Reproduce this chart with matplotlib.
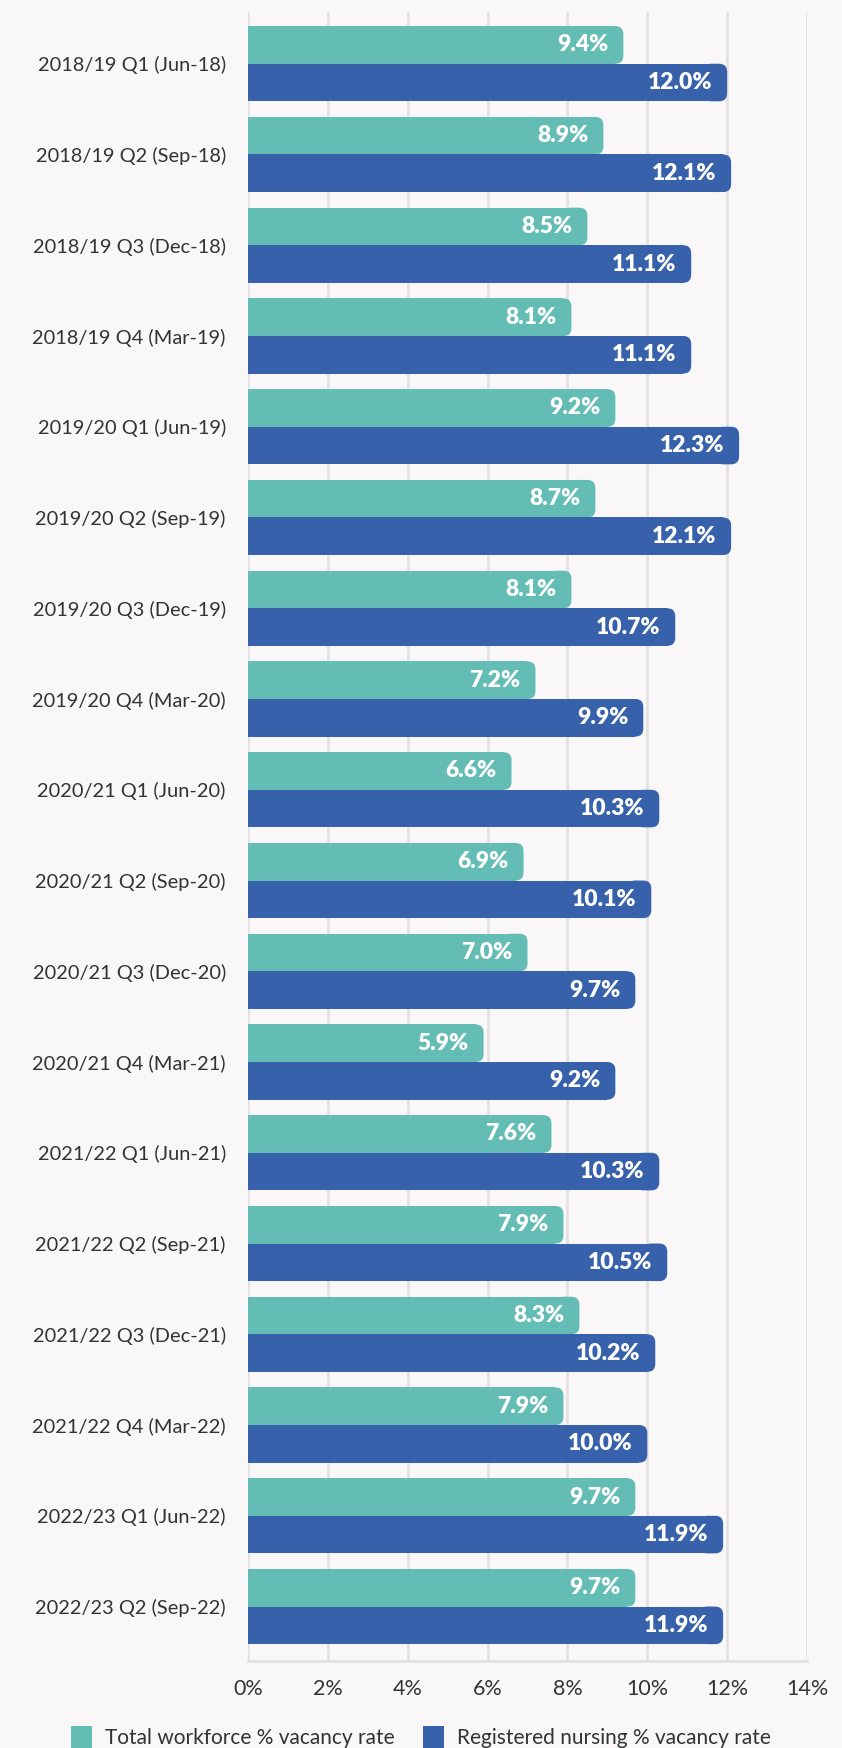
import matplotlib as mpl
mpl.use('Agg')
import matplotlib.pyplot as plt
from matplotlib.patches import FancyBboxPatch, Patch
import numpy as np

# quarterly vacancy rates
quarters = [
    "2018/19 Q1 (Jun-18)", "2018/19 Q2 (Sep-18)", "2018/19 Q3 (Dec-18)",
    "2018/19 Q4 (Mar-19)", "2019/20 Q1 (Jun-19)", "2019/20 Q2 (Sep-19)",
    "2019/20 Q3 (Dec-19)", "2019/20 Q4 (Mar-20)", "2020/21 Q1 (Jun-20)",
    "2020/21 Q2 (Sep-20)", "2020/21 Q3 (Dec-20)", "2020/21 Q4 (Mar-21)",
    "2021/22 Q1 (Jun-21)", "2021/22 Q2 (Sep-21)", "2021/22 Q3 (Dec-21)",
    "2021/22 Q4 (Mar-22)", "2022/23 Q1 (Jun-22)", "2022/23 Q2 (Sep-22)",
]
total_workforce = [9.4, 8.9, 8.5, 8.1, 9.2, 8.7, 8.1, 7.2, 6.6, 6.9,
                   7.0, 5.9, 7.6, 7.9, 8.3, 7.9, 9.7, 9.7]
registered_nursing = [12.0, 12.1, 11.1, 11.1, 12.3, 12.1, 10.7, 9.9, 10.3, 10.1,
                      9.7, 9.2, 10.3, 10.5, 10.2, 10.0, 11.9, 11.9]
series_names = ["Total workforce % vacancy rate",
                "Registered nursing % vacancy rate"]
xticks = [0, 2, 4, 6, 8, 10, 12, 14]

TEAL = "#64bdb5"
BLUE = "#3762ab"
BG = "#f9f7f8"
GRID = "#e4e1e2"
TXT = "#333333"

plt.rcParams['font.family'] = ['Lato', 'DejaVu Sans']

fig = plt.figure(figsize=(8.42, 17.48), dpi=100, facecolor=BG)
ax = fig.add_axes([248 / 842, 1 - 1661 / 1748, (807 - 248) / 842, (1661 - 12) / 1748])
ax.set_facecolor(BG)

y = np.arange(len(quarters))
h = 0.414
ax.set_xlim(0, 14)
ax.set_ylim(17.6, -0.57)

# rounding radius in pixels, converted to data units for each axis
r_px = 8
px_x = 14 / 559
px_y = 18.17 / 1649
rx = r_px * px_x
aspect = (r_px * px_y) / rx


def rounded_bars(vals, offset, color):
    for yi, v in zip(y, vals):
        y0 = yi + offset
        # square left part through barh, rounded right end as a patch
        ax.barh(y0 + h / 2, v - rx, height=h, color=color, linewidth=0, zorder=2)
        p = FancyBboxPatch((v - 3 * rx, y0), 3 * rx, h,
                           boxstyle=f"round,pad=0,rounding_size={rx}",
                           mutation_aspect=aspect, facecolor=color,
                           edgecolor='none', zorder=2)
        ax.add_patch(p)
        ax.text(v - 15 * px_x, y0 + h / 2, f"{v:.1f}%", ha='right', va='center',
                color='white', fontsize=16.5, fontweight='heavy', zorder=3)


rounded_bars(total_workforce, -h, TEAL)
rounded_bars(registered_nursing, 0, BLUE)

ax.set_yticks(y)
ax.set_yticklabels(quarters, fontsize=14.4, color=TXT)
ax.set_xticks(xticks)
ax.set_xticklabels([f"{t}%" for t in xticks], fontsize=15.5, color=TXT)
ax.tick_params(axis='both', length=0)
ax.tick_params(axis='y', pad=16)
ax.tick_params(axis='x', pad=13)

for s in ['top', 'right', 'left']:
    ax.spines[s].set_visible(False)
ax.spines['bottom'].set_color(GRID)
ax.spines['bottom'].set_linewidth(2)
ax.grid(axis='x', color=GRID, linewidth=2, zorder=0)
ax.set_axisbelow(True)

handles = [Patch(facecolor=TEAL, edgecolor='none'),
           Patch(facecolor=BLUE, edgecolor='none')]
fig.legend(handles, series_names, loc='lower center', ncol=2,
           bbox_to_anchor=(0.5, -0.011), frameon=False, fontsize=15,
           handlelength=1.0, handleheight=1.3, handletextpad=0.6,
           columnspacing=1.4, labelcolor=TXT)

fig.savefig("out.png", dpi=100, facecolor=BG)
